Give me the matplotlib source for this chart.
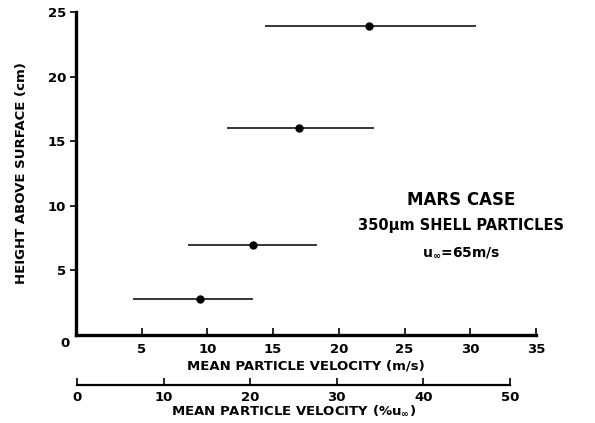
import matplotlib.pyplot as plt

plt.rcParams['font.family'] = 'DejaVu Sans'
plt.rcParams['font.weight'] = 'bold'
plt.rcParams['mathtext.fontset'] = 'custom'
plt.rcParams['mathtext.rm'] = 'DejaVu Sans:bold'
plt.rcParams['mathtext.it'] = 'DejaVu Sans:bold'
plt.rcParams['mathtext.bf'] = 'DejaVu Sans:bold'
plt.rcParams['mathtext.default'] = 'rm'

# data
height = [2.8, 7.0, 16.0, 23.9]          # cm
v_mean = [9.4, 13.5, 17.0, 22.3]         # m/s
v_low = [4.3, 8.5, 11.5, 14.4]           # m/s
v_high = [13.5, 18.3, 22.7, 30.4]        # m/s

x_ticks = [5, 10, 15, 20, 25, 30, 35]
y_ticks = [5, 10, 15, 20, 25]
pct_ticks = [0, 10, 20, 30, 40, 50]

W, H = 595, 423
fig = plt.figure(figsize=(W / 100, H / 100), dpi=100)

# main axes (pixel box: x 76..536, y 12..335)
ax = fig.add_axes([76 / W, 1 - 335 / H, 460 / W, 323 / H])
err = [[m - lo for m, lo in zip(v_mean, v_low)],
       [hi - m for m, hi in zip(v_mean, v_high)]]
ax.errorbar(v_mean, height, xerr=err, fmt='o', color='black',
            markersize=5, elinewidth=1.1, capsize=0, clip_on=False)

ax.set_xlim(0, 35)
ax.set_ylim(0, 25)
ax.spines['top'].set_visible(False)
ax.spines['right'].set_visible(False)
ax.spines['left'].set_linewidth(2.4)
ax.spines['bottom'].set_linewidth(2.4)
ax.set_xticks(x_ticks)
ax.set_yticks(y_ticks)
ax.tick_params(axis='x', direction='in', length=5, width=1.2, pad=6, labelsize=9.5)
ax.tick_params(axis='y', direction='out', length=4, width=1.2, pad=3, labelsize=9.5)
ax.annotate('0', xy=(0, 0), xytext=(-8, -6), textcoords='offset points',
            ha='center', va='center', fontsize=9.5, fontweight='bold')

ax.set_xlabel('MEAN PARTICLE VELOCITY (m/s)', fontsize=9.5, fontweight='bold', labelpad=2)
ax.set_ylabel('HEIGHT ABOVE SURFACE (cm)', fontsize=9.5, fontweight='bold', labelpad=14)

ax.text(0.838, 0.418, 'MARS CASE', transform=ax.transAxes, ha='center', va='center',
        fontsize=12, fontweight='bold')
ax.text(0.838, 0.338, '350\u03bcm SHELL PARTICLES', transform=ax.transAxes,
        ha='center', va='center', fontsize=10.5, fontweight='bold')
ax.text(0.838, 0.255, r'u$_{\infty}$=65m/s', transform=ax.transAxes,
        ha='center', va='center', fontsize=10, fontweight='bold')

# secondary scale: percent of free-stream velocity
ax2 = fig.add_axes([77 / W, 1 - 385 / H, 433 / W, 0.001])
ax2.set_xlim(0, 50)
ax2.set_xticks(pct_ticks)
ax2.set_yticks([])
for s in ['top', 'left', 'right']:
    ax2.spines[s].set_visible(False)
ax2.spines['bottom'].set_linewidth(1.6)
ax2.tick_params(axis='x', direction='in', length=5, width=1.2, pad=4, labelsize=9.5)
ax2.set_xlabel(r'MEAN PARTICLE VELOCITY (%u$_{\infty}$)', fontsize=9.5,
               fontweight='bold', labelpad=0)
ax2.patch.set_visible(False)

fig.savefig('out.png', dpi=100)
